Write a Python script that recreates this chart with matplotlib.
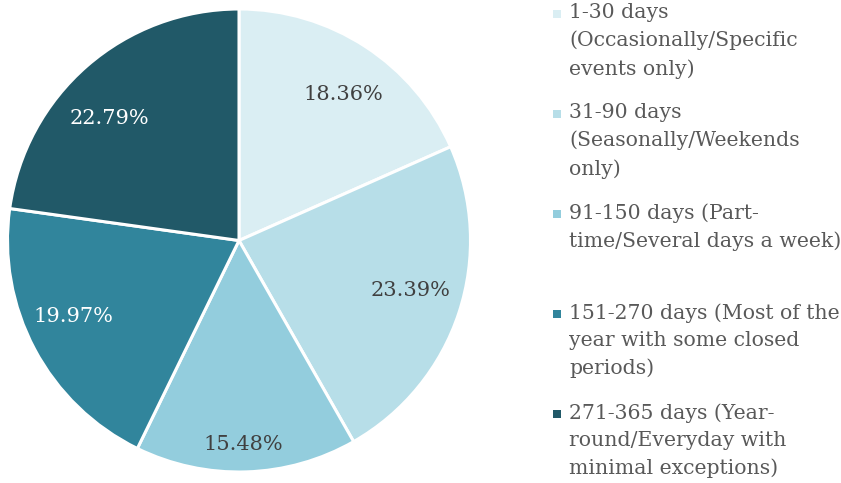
import matplotlib.pyplot as plt
from matplotlib.patches import Rectangle

labels = ["1-30 days\n(Occasionally/Specific\nevents only)",
          "31-90 days\n(Seasonally/Weekends\nonly)",
          "91-150 days (Part-\ntime/Several days a week)",
          "151-270 days (Most of the\nyear with some closed\nperiods)",
          "271-365 days (Year-\nround/Everyday with\nminimal exceptions)"]
shares = [18.36, 23.39, 15.48, 19.97, 22.79]
colors = ["#DAEEF3", "#B7DEE8", "#93CDDD", "#31859C", "#215968"]
text_colors = ["#404040", "#404040", "#404040", "white", "white"]
# where the percentage labels sit (pixels), as placed in the original
label_px = [(343, 93), (411, 289), (243, 442), (73, 314), (109, 116)]

W, H = 841, 483
fig = plt.figure(figsize=(W / 100, H / 100), dpi=100)
plt.rcParams['font.family'] = ['DejaVu Serif']

cx, cy, r = 239, 240.5, 231.5
ax = fig.add_axes([(cx - r) / W, (H - cy - r) / H, 2 * r / W, 2 * r / H])
wedges, texts, autotexts = ax.pie(shares, colors=colors, startangle=90, counterclock=False,
                                  autopct="%.2f%%", pctdistance=0.79,
                                  wedgeprops=dict(edgecolor="white", linewidth=2.2))
for t, c, (px, py) in zip(autotexts, text_colors, label_px):
    t.set_color(c)
    t.set_fontsize(15)
    t.set_position(((px - cx) / r, (cy - py) / r))
    t.set_va("center_baseline")
ax.set_xlim(-1, 1)
ax.set_ylim(-1, 1)
ax.set_aspect("equal")

# legend drawn by hand so every entry gets the same height
lax = fig.add_axes([0, 0, 1, 1])
lax.set_xlim(0, W)
lax.set_ylim(H, 0)
lax.axis("off")
top = 3
step = 100
for i, (lab, c) in enumerate(zip(labels, colors)):
    y = top + i * step
    lax.add_patch(Rectangle((553, y + 7), 8, 8, facecolor=c, edgecolor="none"))
    lax.text(569, y, lab, va="top", ha="left", fontsize=14.7, color="#595959",
             linespacing=1.55)

fig.savefig("out.png", dpi=100)
